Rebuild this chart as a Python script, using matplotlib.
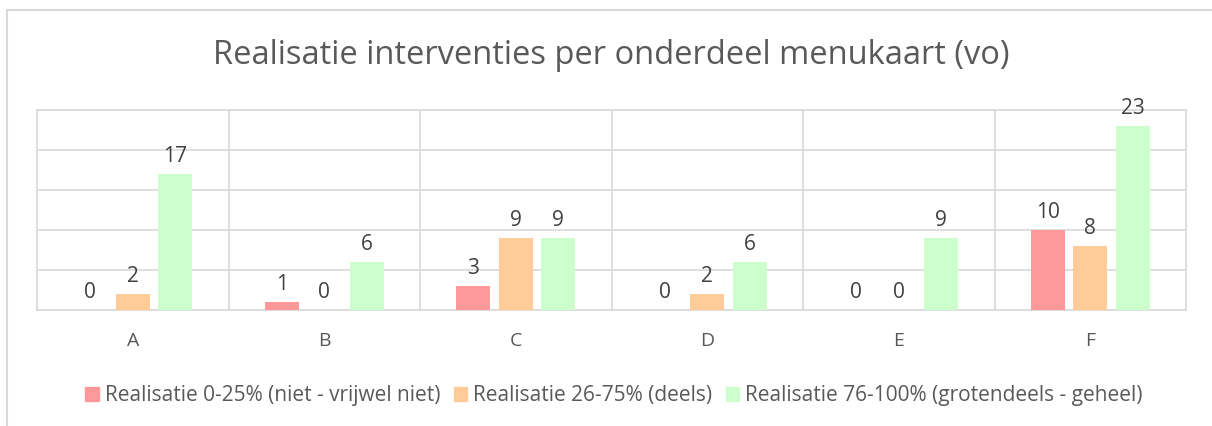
import numpy as np
from matplotlib import pyplot as plt
from matplotlib.patches import Patch
from matplotlib.lines import Line2D

categories = ['A', 'B', 'C', 'D', 'E', 'F']
series_names = ['Realisatie 0-25% (niet - vrijwel niet)',
                'Realisatie 26-75% (deels)',
                'Realisatie 76-100% (grotendeels - geheel)']
niet = [0, 1, 3, 0, 0, 10]
deels = [2, 0, 9, 2, 0, 8]
geheel = [17, 6, 9, 6, 9, 23]
colors = ['#FF9999', '#FFCC99', '#CCFFCC']

plt.rcParams['font.family'] = ['Open Sans', 'DejaVu Sans']
txt = '#595959'
grid = '#D9D9D9'

fig = plt.figure(figsize=(12.12, 4.26), dpi=100)
W, H = 1212, 426

# outer chart frame (runs off the right/bottom edge like the screenshot)
fig.add_artist(Line2D([7 / W, 7 / W], [0, 1 - 10 / H], color=grid, lw=1.5, transform=fig.transFigure))
fig.add_artist(Line2D([7 / W, 1], [1 - 10 / H, 1 - 10 / H], color=grid, lw=1.5, transform=fig.transFigure))

ax = fig.add_axes([37 / W, (426 - 310) / H, (1186 - 37) / W, 200 / H])

x = np.arange(len(categories))
bw = 0.177
step = 0.222
for i, (vals, c, name) in enumerate(zip([niet, deels, geheel], colors, series_names)):
    pos = x + (i - 1) * step
    bars = ax.bar(pos, vals, width=bw, color=c, label=name, zorder=3)
    for b, v in zip(bars, vals):
        ax.annotate(str(v), (b.get_x() + b.get_width() / 2, v), xytext=(0, 5),
                    textcoords='offset points', ha='center', va='bottom',
                    fontsize=15, color='#404040')

ax.set_xlim(-0.5, len(categories) - 0.5)
ax.set_ylim(0, 25)
ax.set_yticks([0, 5, 10, 15, 20, 25])
ax.set_yticklabels([])
ax.tick_params(axis='y', length=0)
ax.set_xticks(x)
ax.set_xticklabels(categories, fontsize=14, color=txt)
ax.tick_params(axis='x', length=0, pad=16)
ax.set_xticks(np.arange(0.5, len(categories) - 0.5, 1), minor=True)
ax.tick_params(axis='x', which='minor', length=0)
ax.grid(True, axis='y', color=grid, lw=1.2, zorder=0)
ax.grid(True, axis='x', which='minor', color=grid, lw=1.2, zorder=0)
for s in ax.spines.values():
    s.set_color(grid)
    s.set_linewidth(1.2)

fig.text(611 / W, 1 - 56 / H, 'Realisatie interventies per onderdeel menukaart (vo)',
         ha='center', va='center', fontsize=23.5, color=txt)

handles = [Patch(color=c) for c in colors]
fig.legend(handles, series_names, loc='center', bbox_to_anchor=(614 / W, 1 - 396 / H),
           ncol=3, frameon=False, fontsize=15, labelcolor=txt,
           handlelength=0.65, handleheight=0.65, handletextpad=0.28, columnspacing=0.65)

fig.savefig('out.png', dpi=100)
